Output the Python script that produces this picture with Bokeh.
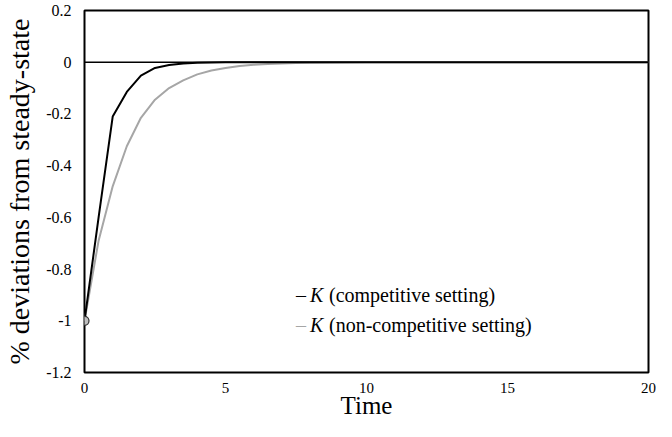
from bokeh.plotting import figure
from bokeh.models import Range1d, FixedTicker, Span, Label
from bokeh.embed import file_html
from bokeh.resources import INLINE

# ---- data ----
time = [0.0, 0.5, 1.0, 1.5, 2.0, 2.5, 3.0, 3.5, 4.0, 4.5, 5.0, 5.5, 6.0, 6.5, 7.0, 7.5, 8.0,
        9.0, 10.0, 11.0, 12.0, 13.0, 14.0, 15.0, 16.0, 17.0, 18.0, 19.0, 20.0]
k_competitive = [-1.0, -0.60, -0.21, -0.115, -0.052, -0.022, -0.011, -0.005, -0.002, -0.001,
                 0.0, 0.0, 0.0, 0.0, 0.0, 0.0, 0.0,
                 0.0, 0.0, 0.0, 0.0, 0.0, 0.0, 0.0, 0.0, 0.0, 0.0, 0.0, 0.0]
k_noncompetitive = [-1.0, -0.69, -0.48, -0.325, -0.215, -0.145, -0.10, -0.07, -0.047, -0.032,
                    -0.022, -0.015, -0.010, -0.007, -0.005, -0.003, -0.002,
                    -0.001, 0.0, 0.0, 0.0, 0.0, 0.0, 0.0, 0.0, 0.0, 0.0, 0.0, 0.0]
y_ticks = [-1.2, -1.0, -0.8, -0.6, -0.4, -0.2, 0.0, 0.2]
y_tick_labels = ["-1.2", "-1", "-0.8", "-0.6", "-0.4", "-0.2", "0", "0.2"]
x_ticks = [0, 5, 10, 15, 20]
x_tick_labels = ["0", "5", "10", "15", "20"]
series_names = ["(competitive setting)", "(non-competitive setting)"]
series_colors = ["#000000", "#a6a6a6"]

FONT = "Liberation Serif"

p = figure(width=656, height=421, output_backend="svg", toolbar_location=None,
           x_range=Range1d(0, 20), y_range=Range1d(-1.2, 0.2),
           min_border_left=84, min_border_right=8, min_border_top=10, min_border_bottom=0)
p.background_fill_color = "white"
p.border_fill_color = "white"
p.outline_line_color = "black"
p.outline_line_width = 2
p.grid.visible = False

for ax in (p.xaxis[0], p.yaxis[0]):
    ax.axis_line_color = None
    ax.major_tick_line_color = None
    ax.minor_tick_line_color = None
    ax.major_tick_in = 0
    ax.major_tick_out = 0
    ax.minor_tick_in = 0
    ax.minor_tick_out = 0
    ax.major_label_text_font = FONT
    ax.axis_label_text_font = FONT
    ax.axis_label_text_font_style = "normal"
    ax.axis_label_text_color = "black"
    ax.major_label_text_color = "black"

p.xaxis.ticker = FixedTicker(ticks=x_ticks)
p.xaxis.major_label_overrides = dict(zip(x_ticks, x_tick_labels))
p.xaxis.major_label_text_font_size = "15px"
p.xaxis.major_label_standoff = 10
p.xaxis.axis_label = "Time"
p.xaxis.axis_label_text_font_size = "25px"
p.xaxis.axis_label_standoff = -4

p.yaxis.ticker = FixedTicker(ticks=y_ticks)
p.yaxis.major_label_overrides = dict(zip(y_ticks, y_tick_labels))
p.yaxis.major_label_text_font_size = "16px"
p.yaxis.major_label_standoff = 13
p.yaxis.axis_label = "% deviations from steady-state"
p.yaxis.axis_label_text_font_size = "28px"
p.yaxis.axis_label_standoff = 8

zero = Span(location=0, dimension="width", line_color="black", line_width=1.5, level="underlay")
p.add_layout(zero)

p.line(time, k_noncompetitive, line_color=series_colors[1], line_width=2)
p.line(time, k_competitive, line_color=series_colors[0], line_width=2)
p.scatter(time[:1], k_noncompetitive[:1], size=9, fill_color="#bfbfbf",
          line_color="#303030", line_width=1.2)

# legend (text entries)
legend_x = 7.5
legend_rows = [-0.9, -1.015]
for name, color, ly in zip(series_names, series_colors, legend_rows):
    p.add_layout(Label(x=legend_x, y=ly, text="\u2013", text_color=color,
                       text_font=FONT, text_font_size="20px", text_baseline="middle"))
    p.add_layout(Label(x=legend_x, y=ly, x_offset=14, text="K", text_color="black",
                       text_font=FONT, text_font_style="italic", text_font_size="20px",
                       text_baseline="middle"))
    p.add_layout(Label(x=legend_x, y=ly, x_offset=33, text=name, text_color="black",
                       text_font=FONT, text_font_size="20px", text_baseline="middle"))

open("out.html", "w").write(file_html(p, INLINE))
